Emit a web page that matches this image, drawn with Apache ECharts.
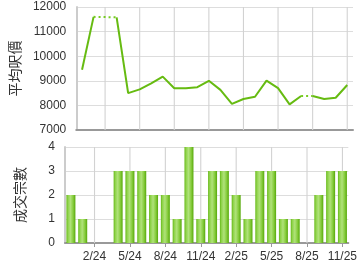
<!DOCTYPE html>
<html><head><meta charset="utf-8">
<script src="https://cdn.jsdelivr.net/npm/echarts@6/dist/echarts.min.js"></script>
<style>html,body{margin:0;padding:0;background:#fff}#c{width:360px;height:270px}</style>
</head><body><div id="c"></div>
<script>
const months = ['12/23','1/24','2/24','3/24','4/24','5/24','6/24','7/24','8/24','9/24','10/24','11/24','12/24','1/25','2/25','3/25','4/25','5/25','6/25','7/25','8/25','9/25','10/25','11/25'];
const avgPrice = [9450,11600,11590,11580,8500,8650,8900,9170,8700,8700,8740,9000,8630,8060,8260,8350,9010,8700,8040,8380,8380,8260,8310,8830];
const txCount = [2,1,0,0,3,3,3,2,2,1,4,1,3,3,2,1,3,3,1,1,0,2,3,3];
const labelMonths = ['2/24','5/24','8/24','11/24','2/25','5/25','8/25','11/25'];
const priceTicks = [7000,8000,9000,10000,11000,12000];
const countTicks = [0,1,2,3,4];
const priceName = '平均呎價';
const countName = '成交宗數';

const green = '#66bb11';
const labelIdx = labelMonths.map(m => months.indexOf(m));
const pMin = priceTicks[0], pMax = priceTicks[priceTicks.length-1];
const cMin = countTicks[0], cMax = countTicks[countTicks.length-1];

const series = [];
// vertical grid lines at the labelled months, drawn through the axes
[[0,pMin,pMax],[1,cMin,cMax]].forEach(([g,lo,hi]) => labelIdx.forEach(i => series.push({
  type:'line', xAxisIndex:g, yAxisIndex:g, data:[[i,lo],[i,hi]], symbol:'none', silent:true, z:1,
  lineStyle:{color:'#d2d2d2', width:1.1}})));

let run = null, runType = null;
function flush(){ if(run){ series.push({type:'line', xAxisIndex:0, yAxisIndex:0, data:run, symbol:'none', silent:true, z:3,
  lineStyle:{color: runType==='dot' ? '#77cc22' : green, width:2, type: runType==='dot' ? [2,3] : 'solid'}}); } }
for (let i=0;i<avgPrice.length-1;i++){
  const t = txCount[i+1]===0 ? 'dot' : 'solid';
  if (t!==runType){ flush(); run=[[i,avgPrice[i]]]; runType=t; }
  run.push([i+1,avgPrice[i+1]]);
}
flush();

series.push({type:'bar', xAxisIndex:1, yAxisIndex:1, barWidth:9, silent:true, z:3,
  data: txCount.map((v,i)=>[i,v]),
  itemStyle:{ color: new echarts.graphic.LinearGradient(0,0,1,0,[
    {offset:0,color:'#66b818'},{offset:0.18,color:'#8fd34a'},{offset:0.45,color:'#b0e27a'},
    {offset:0.75,color:'#86cc3c'},{offset:1,color:'#56a80a'}]), borderWidth:0 }
});

const xBase = {type:'value', min:-0.5, max:months.length-0.5,
  splitLine:{show:false},
  axisLine:{show:true, onZero:false, lineStyle:{color:'#999999', width:2}}};

const yBase = {type:'value', nameLocation:'middle', nameGap:38, nameRotate:90,
  nameTextStyle:{color:'#333', fontSize:14, fontFamily:'Noto Sans CJK TC'},
  axisLine:{show:true, onZero:false, lineStyle:{color:'#cccccc', width:2}}, axisTick:{show:false},
  axisLabel:{color:'#333', fontSize:12, margin:10, formatter: v => String(v)},
  splitLine:{lineStyle:{color:'#dddddd'}}};

const chart = echarts.init(document.getElementById('c'), null, {renderer:'canvas'});
chart.setOption({
  animation:false,
  textStyle:{fontFamily:'Liberation Sans, Arial, sans-serif'},
  grid:[{left:65, right:7, top:7, height:123},{left:65, right:7, top:147, height:96}],
  xAxis:[
    Object.assign({}, xBase, {gridIndex:0, axisTick:{show:false}, axisLabel:{show:false}}),
    Object.assign({}, xBase, {gridIndex:1, axisTick:{show:true, length:4, customValues:labelIdx, lineStyle:{color:'#999999'}},
      axisLabel:{show:true, color:'#333', fontSize:12, margin:8, customValues:labelIdx,
        formatter: v => months[Math.round(v)] || ''}})
  ],
  yAxis:[
    Object.assign({}, yBase, {gridIndex:0, min:pMin, max:pMax, interval:1000, name:priceName}),
    Object.assign({}, yBase, {gridIndex:1, min:cMin, max:cMax, interval:1, name:countName})
  ],
  series: series
});
</script></body></html>
